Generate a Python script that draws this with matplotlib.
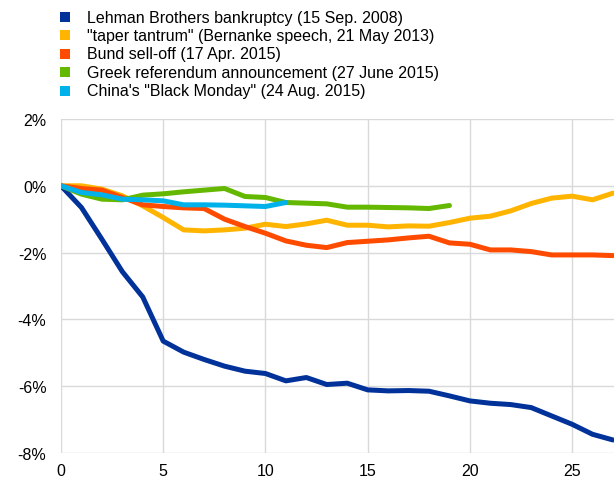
import matplotlib
matplotlib.use("Agg")
import matplotlib.pyplot as plt
from matplotlib.patches import Rectangle
from matplotlib.ticker import FuncFormatter, MultipleLocator

plt.rcParams['font.family'] = ['Liberation Sans', 'DejaVu Sans']

labels = [
    "Lehman Brothers bankruptcy (15 Sep. 2008)",
    "\"taper tantrum\" (Bernanke speech, 21 May 2013)",
    "Bund sell-off (17 Apr. 2015)",
    "Greek referendum announcement (27 June 2015)",
    "China's \"Black Monday\" (24 Aug. 2015)",
]
colors = ["#003299", "#FFB400", "#FF4B00", "#65B800", "#00B1EA"]

lehman = [0.0, -0.65, -1.6, -2.57, -3.33, -4.65, -4.98, -5.2, -5.4, -5.55, -5.62,
          -5.84, -5.74, -5.95, -5.91, -6.11, -6.14, -6.13, -6.15, -6.29, -6.44,
          -6.51, -6.55, -6.64, -6.89, -7.14, -7.44, -7.61]
taper = [0.0, 0.0, -0.1, -0.3, -0.6, -0.95, -1.32, -1.35, -1.32, -1.27, -1.15,
         -1.22, -1.14, -1.03, -1.18, -1.18, -1.23, -1.2, -1.21, -1.1, -0.97,
         -0.91, -0.75, -0.53, -0.37, -0.31, -0.42, -0.22]
bund = [0.0, -0.08, -0.13, -0.35, -0.57, -0.62, -0.66, -0.68, -1.0, -1.22, -1.42,
        -1.65, -1.78, -1.85, -1.7, -1.66, -1.62, -1.56, -1.51, -1.71, -1.75,
        -1.92, -1.92, -1.97, -2.07, -2.07, -2.07, -2.09]
greek = [0.0, -0.25, -0.4, -0.42, -0.28, -0.24, -0.18, -0.13, -0.08, -0.32, -0.35,
         -0.5, -0.52, -0.54, -0.64, -0.64, -0.65, -0.66, -0.68, -0.59]
china = [0.0, -0.2, -0.27, -0.4, -0.42, -0.45, -0.57, -0.57, -0.58, -0.6, -0.62, -0.5]

series = [lehman, taper, bund, greek, china]

W, H = 614, 481
fig = plt.figure(figsize=(W / 100, H / 100), dpi=100)
ax = fig.add_axes([61 / W, (H - 454) / H, (W - 61) / W, (454 - 120) / H])

for vals, c in zip(series, colors):
    ax.plot(range(len(vals)), vals, color=c, lw=3.6, solid_capstyle='round',
            solid_joinstyle='round', zorder=3)

ax.set_xlim(0, 27.05)
ax.set_ylim(-8, 2)
ax.xaxis.set_major_locator(MultipleLocator(5))
ax.yaxis.set_major_locator(MultipleLocator(2))
ax.yaxis.set_major_formatter(FuncFormatter(lambda v, p: f"{v:.0f}%"))
ax.grid(True, color="#d9d9d9", lw=1.0)
ax.set_axisbelow(True)
for s in ax.spines.values():
    s.set_visible(False)
ax.tick_params(length=0, labelsize=11.5, colors="#000000")
ax.tick_params(axis='y', pad=10.5)
ax.tick_params(axis='x', pad=7)

# legend
for i, (lab, c) in enumerate(zip(labels, colors)):
    yc = 18 + 18.4 * i
    fig.add_artist(Rectangle((60 / W, 1 - (yc + 5) / H), 10 / W, 10 / H,
                             transform=fig.transFigure, color=c, lw=0))
    fig.text(87 / W, 1 - yc / H, lab, va='center', ha='left', fontsize=11.5)

fig.savefig("out.png", dpi=100)
